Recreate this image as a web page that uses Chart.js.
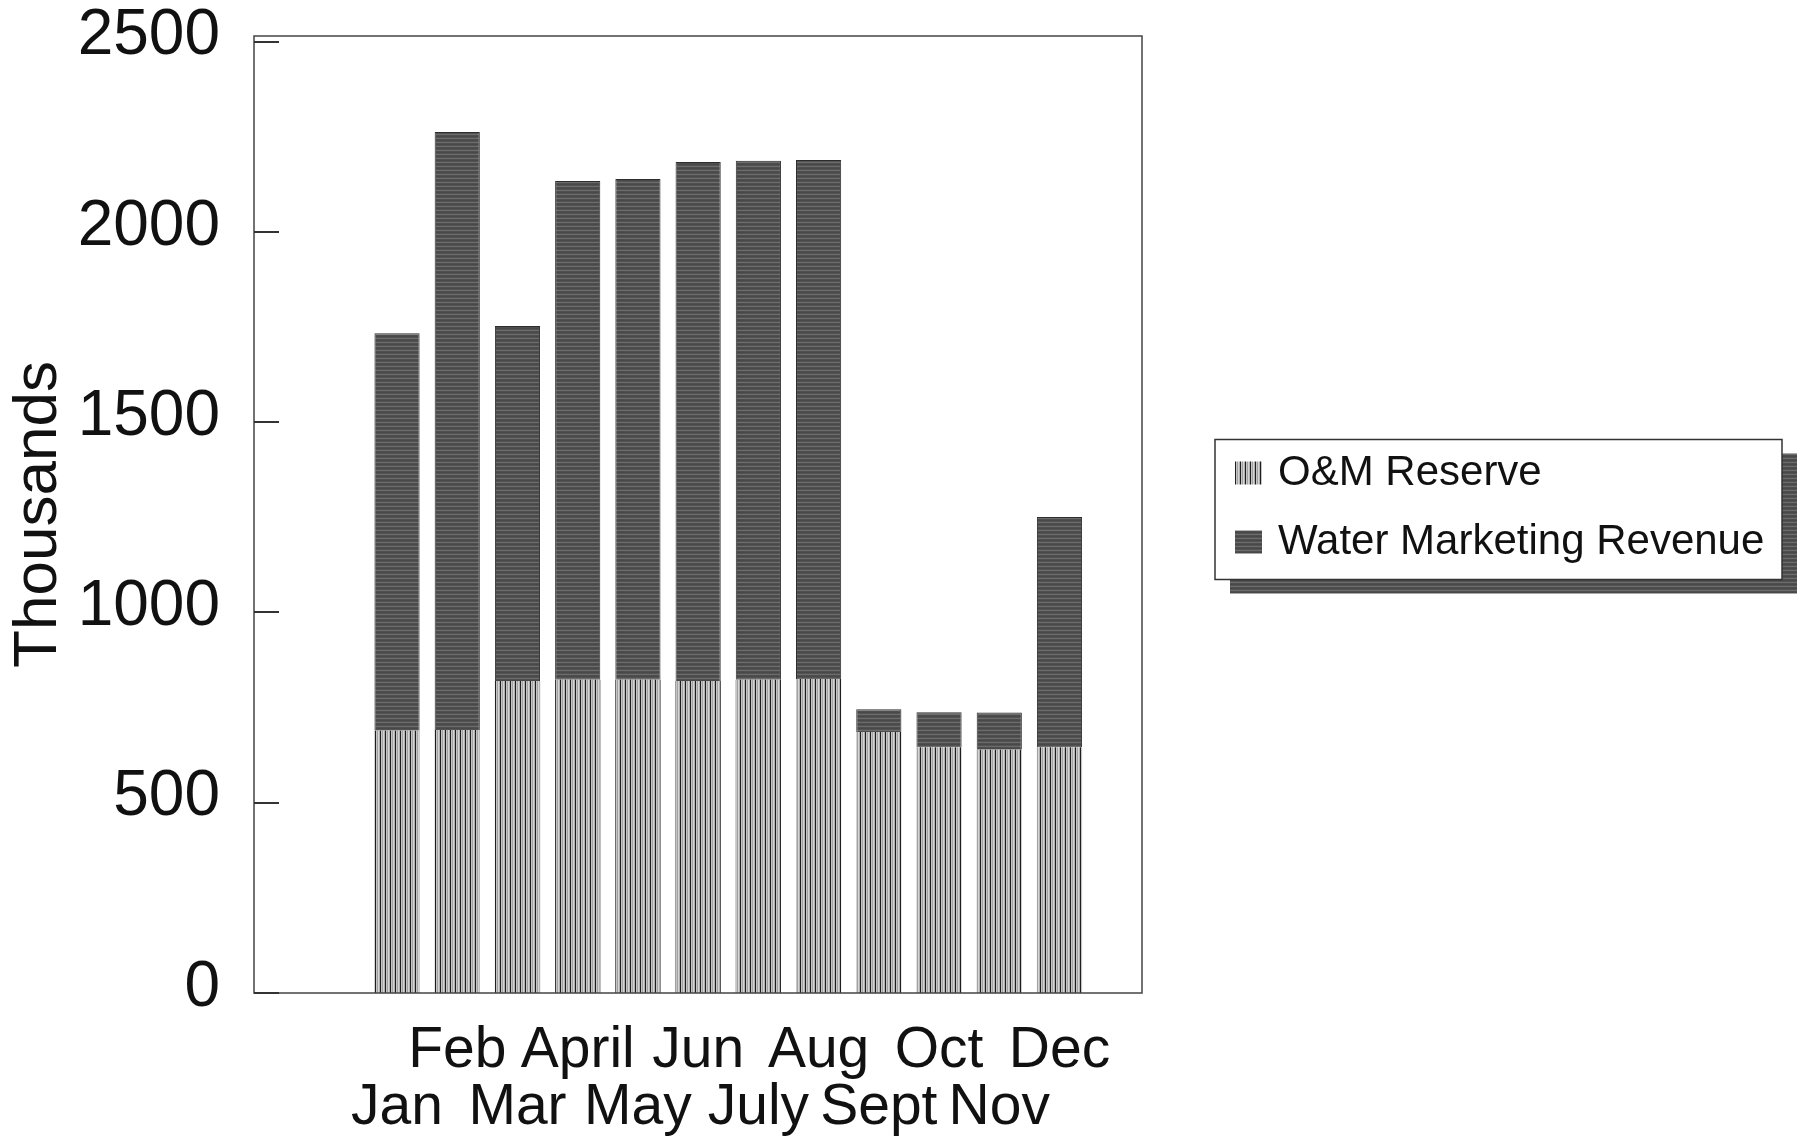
<!DOCTYPE html>
<html>
<head>
<meta charset="utf-8">
<script src="https://cdn.jsdelivr.net/npm/chart.js@4/dist/chart.umd.min.js"></script>
<style>
  html, body { margin: 0; padding: 0; background: #fff; }
</style>
</head>
<body>
<canvas id="myChart" width="1802" height="1139"></canvas>
<script>
// 월별 값 (단위: 천)
const months = ['Jan', 'Feb', 'Mar', 'April', 'May', 'Jun', 'July', 'Aug', 'Sept', 'Oct', 'Nov', 'Dec'];
const omReserve = [689, 691, 820, 823, 823, 820, 823, 825, 686, 646, 639, 646];
const waterRevenue = [1045, 1572, 933, 1311, 1316, 1364, 1364, 1364, 60, 92, 98, 605];
const yTicks = [0, 500, 1000, 1500, 2000, 2500];
const seriesNames = ['O&M Reserve', 'Water Marketing Revenue'];

const FONT = "'Liberation Sans', Arial, sans-serif";
Chart.defaults.font.family = FONT;
Chart.defaults.color = '#111';

// 줄무늬 패턴 만들기
function makePattern(cols, vertical) {
    const c = document.createElement('canvas');
    c.width = vertical ? cols.length : 1;
    c.height = vertical ? 1 : cols.length;
    const g = c.getContext('2d');
    cols.forEach((col, i) => {
        g.fillStyle = col;
        if (vertical) g.fillRect(i, 0, 1, 1);
        else g.fillRect(0, i, 1, 1);
    });
    return g.createPattern(c, 'repeat');
}
const ctx = document.getElementById('myChart').getContext('2d');
const omPattern = makePattern(['#1e1e1e', '#c4c4c4', '#a2a2a2', '#d4d4d4', '#b0b0b0'], true);
const waterPattern = makePattern(['#484848', '#535353', '#6c6c6c', '#4e4e4e'], false);

// 테두리 + 안쪽 눈금
const framePlugin = {
    id: 'frame',
    afterDraw(chart) {
        const { ctx, chartArea: a, scales } = chart;
        ctx.save();
        ctx.strokeStyle = '#444';
        ctx.lineWidth = 1.5;
        ctx.strokeRect(a.left, a.top, a.right - a.left, a.bottom - a.top);
        ctx.fillStyle = '#333';
        yTicks.forEach(v => {
            const y = Math.round(scales.y.getPixelForValue(v));
            ctx.fillRect(a.left, y - 1, 25, 2);
        });
        ctx.restore();
    }
};

// 그림자 있는 범례 상자
const legendPlugin = {
    id: 'legendBox',
    afterDraw(chart) {
        const { ctx, chartArea: a } = chart;
        const w = 567, h = 140;
        const x = a.right + 73;
        const y = (a.top + a.bottom) / 2 - 75;
        ctx.save();
        ctx.fillStyle = waterPattern;
        ctx.fillRect(x + 15, y + 14, w, h);
        ctx.fillStyle = '#fff';
        ctx.fillRect(x, y, w, h);
        ctx.strokeStyle = '#333';
        ctx.lineWidth = 1.5;
        ctx.strokeRect(x, y, w, h);
        chart.data.datasets.forEach((ds, i) => {
            const base = y + 45 + i * 69;
            ctx.fillStyle = ds.backgroundColor;
            ctx.fillRect(x + 20, base - 23, 27, 23);
            ctx.fillStyle = '#111';
            ctx.font = '42px ' + FONT;
            ctx.textBaseline = 'alphabetic';
            ctx.fillText(ds.label, x + 63, base);
        });
        ctx.restore();
    }
};

const myChart = new Chart(ctx, {
    type: 'bar',
    data: {
        datasets: [{
            label: seriesNames[0],
            data: months.map((m, i) => ({ x: i + 1, y: omReserve[i] })),
            backgroundColor: omPattern,
            borderWidth: 0
        },
        {
            label: seriesNames[1],
            data: months.map((m, i) => ({ x: i + 1, y: waterRevenue[i] })),
            backgroundColor: waterPattern,
            borderColor: '#2e2e2e',
            borderWidth: 1
        }]
    },
    options: {
        responsive: false,
        animation: false,
        devicePixelRatio: 1,
        barPercentage: 0.75,
        categoryPercentage: 1.0,
        layout: { padding: { left: 0, top: 36, right: 660, bottom: 0 } },
        scales: {
            x: {
                type: 'linear',
                offset: false,
                stacked: true,
                min: -1.375,
                max: 13.37,
                afterBuildTicks: s => { s.ticks = months.map((m, i) => ({ value: i + 1 })); },
                afterFit: s => { s.height = 146; s.paddingLeft = 0; s.paddingRight = 0; },
                grid: { display: false, drawTicks: false },
                border: { display: false },
                ticks: {
                    autoSkip: false,
                    maxRotation: 0,
                    minRotation: 0,
                    padding: 30,
                    font: { size: 57, lineHeight: 1.0 },
                    callback: v => {
                        const i = Math.round(v) - 1;
                        return i % 2 === 0 ? ['', months[i]] : [months[i], ''];
                    }
                }
            },
            y: {
                stacked: true,
                min: 0,
                max: 2515,
                afterBuildTicks: s => { s.ticks = yTicks.map(v => ({ value: v })); },
                afterFit: s => { s.width = 254; s.paddingTop = 0; s.paddingBottom = 0; },
                grid: { display: false, drawTicks: false },
                border: { display: false },
                ticks: { padding: 34, labelOffset: -5, font: { size: 64 }, callback: v => String(v) },
                title: { display: true, text: 'Thousands', padding: { top: 2, bottom: 0 }, font: { size: 62 } }
            }
        },
        plugins: {
            legend: { display: false },
            tooltip: { enabled: false }
        }
    },
    plugins: [framePlugin, legendPlugin]
});
</script>
</body>
</html>
